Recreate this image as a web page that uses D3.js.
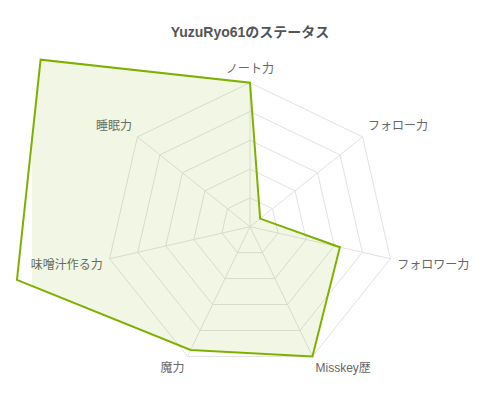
<!DOCTYPE html>
<html>
<head>
<meta charset="utf-8">
<script src="https://cdn.jsdelivr.net/npm/d3@7"></script>
<style>
  body { margin: 0; background: #fff; }
  text { font-family: "Liberation Sans", Arial, "Noto Sans CJK JP", sans-serif; }
</style>
</head>
<body>
<div id="chart"></div>
<script>
const title = "YuzuRyo61のステータス";
const labels = ["ノート力", "フォロー力", "フォロワー力", "Misskey歴", "魔力", "味噌汁作る力", "睡眠力"];
const values = [5, 0.45, 3.2, 5, 4.75, 8.3, 9.3];
const ticks = [1, 2, 3, 4, 5];

const width = 500, height = 400;
const cx = 250, cy = 226.7, radius = 144;
const lineColor = "#7fb000";

const svg = d3.select("#chart").append("svg")
  .attr("width", width)
  .attr("height", height);

const r = d3.scaleLinear().domain([0, d3.max(ticks)]).range([0, radius]);
const angle = d3.scaleLinear().domain([0, labels.length]).range([0, 2 * Math.PI]);

// point for axis i at value v
let pt = function (i, v) {
  const a = angle(i);
  return [cx + r(v) * Math.sin(a), cy - r(v) * Math.cos(a)];
}

svg.append("defs").append("clipPath")
  .attr("id", "fillClip")
  .append("rect")
  .attr("x", 32).attr("y", 0)
  .attr("width", width - 32).attr("height", height);

const grid = svg.append("g").attr("class", "grid");

// rings
grid.selectAll("polygon")
  .data(ticks)
  .join("polygon")
  .attr("points", t => labels.map((d, i) => pt(i, t).join(",")).join(" "))
  .attr("fill", "none")
  .attr("stroke", "#e2e2e2")
  .attr("stroke-width", 1);

// angle lines
grid.selectAll("line")
  .data(labels)
  .join("line")
  .attr("x1", cx).attr("y1", cy)
  .attr("x2", (d, i) => pt(i, d3.max(ticks))[0])
  .attr("y2", (d, i) => pt(i, d3.max(ticks))[1])
  .attr("stroke", "#e2e2e2")
  .attr("stroke-width", 1);

// point labels
svg.append("g").selectAll("text")
  .data(labels)
  .join("text")
  .each(function (d, i) {
    const a = angle(i);
    const p = [cx + (radius + 7) * Math.sin(a), cy - (radius + 7) * Math.cos(a)];
    const s = Math.sin(a);
    const anchor = Math.abs(s) < 0.01 ? "middle" : (s > 0 ? "start" : "end");
    const dy = Math.cos(a) > 0 ? -6 : 6;
    d3.select(this)
      .attr("x", p[0])
      .attr("y", p[1] + dy)
      .attr("text-anchor", anchor)
      .attr("dominant-baseline", "middle");
  })
  .attr("font-size", 12)
  .attr("fill", "#666")
  .text(d => d);

const pts = values.map((v, i) => pt(i, v));
const line = d3.line().curve(d3.curveLinearClosed);

svg.append("path")
  .attr("d", line(pts))
  .attr("clip-path", "url(#fillClip)")
  .attr("fill", "rgba(127,176,0,0.1)")
  .attr("stroke", "none");

svg.append("path")
  .attr("d", line(pts))
  .attr("fill", "none")
  .attr("stroke", lineColor)
  .attr("stroke-width", 2)
  .attr("stroke-linejoin", "miter");

svg.append("text")
  .attr("x", width / 2)
  .attr("y", 33)
  .attr("text-anchor", "middle")
  .attr("dominant-baseline", "middle")
  .attr("font-size", 14)
  .attr("font-weight", "bold")
  .attr("fill", "#555")
  .text(title);
</script>
</body>
</html>
